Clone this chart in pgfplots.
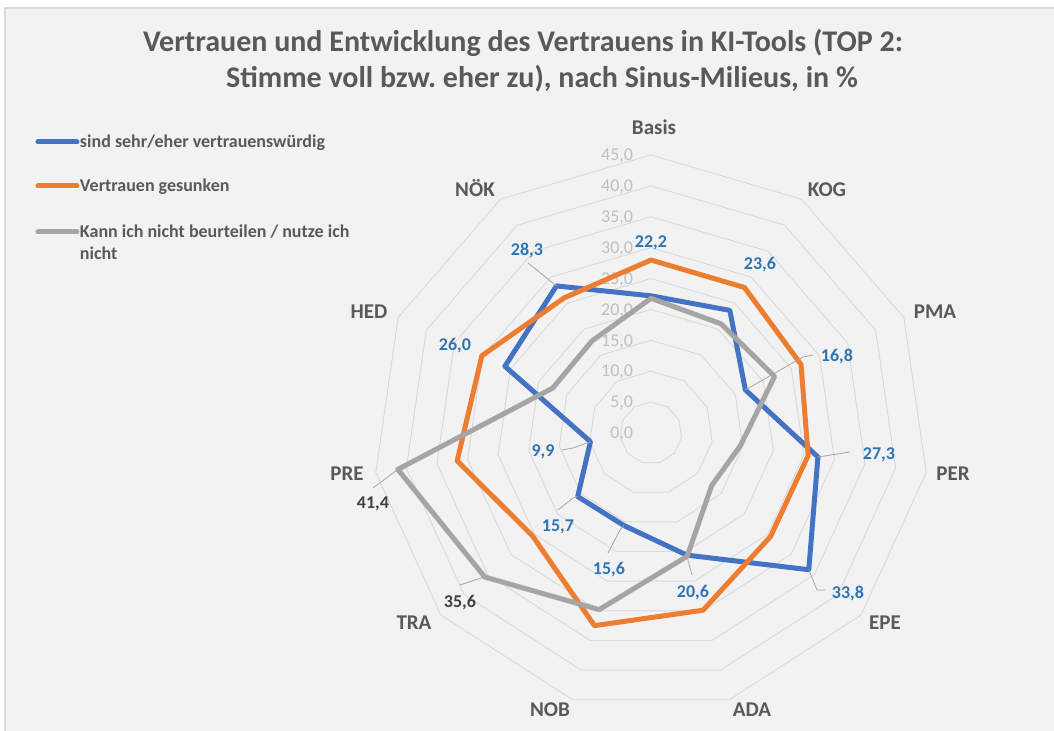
\documentclass[border=0pt]{standalone}
\usepackage{fontspec}
\setmainfont{Carlito}
\usepackage{pgfplots}
\usepgfplotslibrary{polar}
\pgfplotsset{compat=1.18}
\definecolor{sBlue}{HTML}{4472C4}
\definecolor{sOrange}{HTML}{ED7D31}
\definecolor{sGray}{HTML}{A5A5A5}
\definecolor{tGray}{HTML}{595959}
\definecolor{lBlue}{HTML}{2E75B6}
\definecolor{lBlack}{HTML}{404040}
\definecolor{ringC}{HTML}{D9D9D9}
\definecolor{tickC}{HTML}{BFBFBF}
\definecolor{bgC}{HTML}{F2F2F2}
\definecolor{frameC}{HTML}{D9D9D9}
\definecolor{leadC}{HTML}{A6A6A6}
\frenchspacing
\begin{document}
\begin{tikzpicture}[x=1bp,y=1bp,
  ttl/.style={inner sep=0pt, outer sep=0pt, text=tGray, font=\bfseries\fontsize{30bp}{30bp}\selectfont, text height=19.3bp, text depth=0pt},
  leg/.style={inner sep=0pt, outer sep=0pt, text=tGray, anchor=west, font=\bfseries\fontsize{18bp}{18bp}\selectfont, text height=11.6bp, text depth=0pt},
  cat/.style={inner sep=0pt, outer sep=0pt, text=tGray, font=\bfseries\fontsize{21bp}{21bp}\selectfont, text height=13.5bp, text depth=0pt},
  tck/.style={inner sep=0pt, outer sep=0pt, text=tickC, anchor=east, font=\fontsize{18bp}{18bp}\selectfont, text height=11.4bp, text depth=0pt},
  dl/.style={inner sep=0pt, outer sep=0pt, text=lBlue, font=\bfseries\fontsize{18bp}{18bp}\selectfont, text height=11.4bp, text depth=0pt},
  dk/.style={dl, text=lBlack},
  ld/.style={leadC, line width=0.8bp},
]
\useasboundingbox (-651,-298) rectangle (403,433);
\fill[white] (-651,-298) rectangle (403,433);
\fill[bgC] (-646,-298) rectangle (403,425);
\draw[frameC, line width=1.5bp] (-646,-298) -- (-646,425) -- (403,425);

% title
\node[ttl] at (-128,391) {Vertrauen und Entwicklung des Vertrauens in KI-Tools (TOP 2:};
\node[ttl] at (-109,355) {Stimme voll bzw. eher zu), nach Sinus-Milieus, in \%};

% legend
\draw[sBlue, line width=5bp, line cap=round] (-613,291) -- (-574,291);
\node[leg] at (-571,291) {sind sehr/eher vertrauenswürdig};
\draw[sOrange, line width=5bp, line cap=round] (-613,247) -- (-574,247);
\node[leg] at (-571,247) {Vertrauen gesunken};
\draw[sGray, line width=5bp, line cap=round] (-613,201) -- (-574,201);
\node[leg] at (-571,201) {Kann ich nicht beurteilen / nutze ich};
\node[leg] at (-571,179) {nicht};

% radial tick labels
\foreach \v/\t in {0/0,5/5,10/10,15/15,20/20,25/25,30/30,35/35,40/40,45/45}{
  \node[tck] at (-18,{6.178*\v}) {\t,0};
}

\begin{polaraxis}[
  at={(0,0)}, anchor=origin,
  scale only axis, width=556bp, height=556bp,
  ymin=0, ymax=45,
  hide axis, clip=false,
]
\pgfplotsinvokeforeach{5,10,...,45}{
  \addplot[ringC, line width=0.9bp, line join=round] coordinates {(90,#1) (57.27,#1) (24.55,#1) (-8.18,#1) (-40.91,#1) (-73.64,#1) (-106.36,#1) (-139.09,#1) (-171.82,#1) (-204.55,#1) (-237.27,#1) (-270,#1)};
}
% sind sehr/eher vertrauenswuerdig
\addplot[sBlue, line width=5bp, line join=round, line cap=round] coordinates {(90,22.2) (57.27,23.6) (24.55,16.8) (-8.18,27.3) (-40.91,33.8) (-73.64,20.6) (-106.36,15.6) (-139.09,15.7) (-171.82,9.9) (-204.55,26.0) (-237.27,28.3) (-270,22.2)};
% Vertrauen gesunken
\addplot[sOrange, line width=5bp, line join=round, line cap=round] coordinates {(90,28.0) (57.27,28.0) (24.55,26.7) (-8.18,25.7) (-40.91,25.6) (-73.64,29.9) (-106.36,32.5) (-139.09,25.4) (-171.82,31.7) (-204.55,30.1) (-237.27,26.0) (-270,28.0)};
% Kann ich nicht beurteilen / nutze ich nicht
\addplot[sGray, line width=5bp, line join=round, line cap=round] coordinates {(90,21.8) (57.27,21.0) (24.55,22.0) (-8.18,14.6) (-40.91,13.0) (-73.64,20.8) (-106.36,29.8) (-139.09,35.6) (-171.82,41.4) (-204.55,17.5) (-237.27,17.7) (-270,21.8)};

\coordinate (bPMA) at (axis cs:24.55,16.8);
\coordinate (bPER) at (axis cs:-8.18,27.3);
\coordinate (bEPE) at (axis cs:-40.91,33.8);
\coordinate (bADA) at (axis cs:-73.64,20.6);
\coordinate (bNOB) at (axis cs:-106.36,15.6);
\coordinate (bTRA) at (axis cs:-139.09,15.7);
\coordinate (bPRE) at (axis cs:-171.82,9.9);
\coordinate (bNOK) at (axis cs:-237.27,28.3);
\coordinate (gTRA) at (axis cs:-139.09,35.6);
\coordinate (gPRE) at (axis cs:-171.82,41.4);
\end{polaraxis}

% category labels
\node[cat] at (3,305) {Basis};
\node[cat] at (176,243) {KOG};
\node[cat] at (284,121) {PMA};
\node[cat] at (302,-41) {PER};
\node[cat] at (234,-190) {EPE};
\node[cat] at (101,-277) {ADA};
\node[cat] at (-101,-277) {NOB};
\node[cat] at (-237,-190) {TRA};
\node[cat] at (-304,-41) {PRE};
\node[cat] at (-282,121) {HED};
\node[cat] at (-176,243) {NÖK};

% leader lines
\draw[ld] (bPMA) -- (152,76) -- (162,78);
\draw[ld] (bNOK) -- (-123,170);
\draw[ld] (bPRE) -- (-78,-15) -- (-89,-17);
\draw[ld] (bTRA) -- (-78,-65) -- (-93,-77);
\draw[ld] (bNOB) -- (-31,-97) -- (-43,-120);
\draw[ld] (bADA) -- (37,-127) -- (41,-142);
\draw[ld] (bEPE) -- (166,-157) -- (174,-157);
\draw[ld] (bPER) -- (199,-19);
\draw[ld] (gPRE) -- (-278,-55);
\draw[ld] (gTRA) -- (-173,-146) -- (-191,-152);

% data labels
\node[dl] at (0,191) {22,2};
\node[dl] at (109,169) {23,6};
\node[dl] at (186,77) {16,8};
\node[dl] at (228,-21) {27,3};
\node[dl] at (197,-160) {33,8};
\node[dl] at (42,-159) {20,6};
\node[dl] at (-42,-136) {15,6};
\node[dl] at (-93,-93) {15,7};
\node[dl] at (-108,-18) {9,9};
\node[dl] at (-196,88) {26,0};
\node[dl] at (-124,183) {28,3};
\node[dk] at (-278,-70) {41,4};
\node[dk] at (-191,-169) {35,6};
\end{tikzpicture}
\end{document}
